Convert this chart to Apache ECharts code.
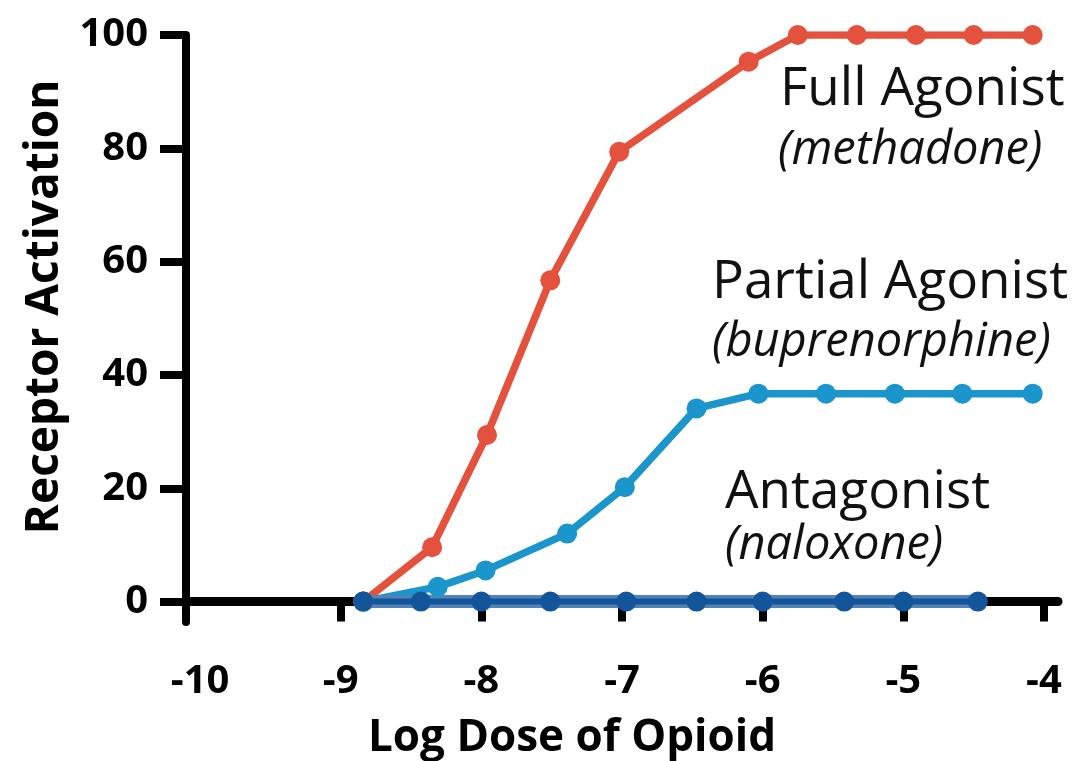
<!DOCTYPE html>
<html>
<head>
<meta charset="utf-8">
<title>Receptor Activation vs Log Dose</title>
<script src="https://cdn.jsdelivr.net/npm/echarts@6/dist/echarts.min.js"></script>
<style>
  html, body { margin: 0; padding: 0; background: #fff; }
  #chart { width: 1084px; height: 761px; }
</style>
</head>
<body>
<div id="chart"></div>
<script>
// log dose (x) and receptor activation (%)
var fullX = [-8.84, -8.35, -7.96, -7.51, -7.02, -6.10, -5.75, -5.33, -4.91, -4.50, -4.08];
var fullY = [0, 9.6, 29.4, 56.7, 79.4, 95.3, 100, 100, 100, 100, 100];

var partialX = [-8.84, -8.31, -7.97, -7.39, -6.98, -6.47, -6.03, -5.55, -5.06, -4.58, -4.08];
var partialY = [0, 2.6, 5.5, 12.0, 20.2, 34.1, 36.7, 36.7, 36.7, 36.7, 36.7];

var antagX = [-8.84, -8.43, -8.00, -7.51, -6.97, -6.47, -6.00, -5.42, -5.00, -4.47];
var antagY = [0, 0, 0, 0, 0, 0, 0, 0, 0, 0];

var xTicks = [-10, -9, -8, -7, -6, -5, -4];
var yTicks = [0, 20, 40, 60, 80, 100];

function pairs(xs, ys) {
  return xs.map(function (x, i) { return [x, ys[i]]; });
}

var font = '"Open Sans", "DejaVu Sans", sans-serif';

var chart = echarts.init(document.getElementById('chart'));

// 曲线
function curve(name, data, color, width, showSymbol) {
  return {
    name: name,
    type: 'line',
    data: data,
    symbol: 'circle',
    symbolSize: 20,
    showSymbol: showSymbol !== false,
    lineStyle: { color: color, width: width || 7.5 },
    itemStyle: { color: color },
    emphasis: { disabled: true },
    animation: false
  };
}

var antag = pairs(antagX, antagY);

var option = {
  backgroundColor: '#ffffff',
  grid: { left: 186, right: 26, top: 35, bottom: 139 },
  xAxis: {
    type: 'value',
    min: -10.1,
    max: -3.9,
    axisLine: { onZero: true, lineStyle: { color: '#000', width: 9 } },
    axisTick: { customValues: xTicks.slice(1), length: 20, lineStyle: { color: '#000', width: 8 } },
    axisLabel: {
      customValues: xTicks,
      margin: 40,
      color: '#000',
      fontFamily: font,
      fontWeight: 'bold',
      fontSize: 40
    },
    splitLine: { show: false }
  },
  yAxis: {
    type: 'value',
    min: -3.6,
    max: 100,
    axisLine: { show: true, lineStyle: { color: '#000', width: 8 } },
    axisTick: { show: true, customValues: yTicks, length: 26, lineStyle: { color: '#000', width: 8 } },
    axisLabel: {
      customValues: yTicks,
      margin: 38,
      color: '#000',
      fontFamily: font,
      fontWeight: 'bold',
      fontSize: 40
    },
    splitLine: { show: false }
  },
  graphic: [
    { type: 'text', x: 572, y: 738, style: { text: 'Log Dose of Opioid', fill: '#000', font: 'bold 44px ' + font, textAlign: 'center', textVerticalAlign: 'middle' } },
    { type: 'text', x: 45, y: 307, rotation: Math.PI / 2, style: { text: 'Receptor Activation', fill: '#000', font: 'bold 46px ' + font, textAlign: 'center', textVerticalAlign: 'middle' } },
    { type: 'text', x: 780, y: 90, style: { text: 'Full Agonist', fill: '#111', font: '53px ' + font, textVerticalAlign: 'middle' } },
    { type: 'text', x: 778, y: 151, style: { text: '(methadone)', fill: '#111', font: 'italic 47px ' + font, textVerticalAlign: 'middle' } },
    { type: 'text', x: 712, y: 283, style: { text: 'Partial Agonist', fill: '#111', font: '53px ' + font, textVerticalAlign: 'middle' } },
    { type: 'text', x: 712, y: 343, style: { text: '(buprenorphine)', fill: '#111', font: 'italic 47px ' + font, textVerticalAlign: 'middle' } },
    { type: 'text', x: 725, y: 493, style: { text: 'Antagonist', fill: '#111', font: '53px ' + font, textVerticalAlign: 'middle' } },
    { type: 'text', x: 725, y: 546, style: { text: '(naloxone)', fill: '#111', font: 'italic 47px ' + font, textVerticalAlign: 'middle' } }
  ],
  series: [
    curve('Full Agonist (methadone)', pairs(fullX, fullY), '#e4513c'),
    curve('Partial Agonist (buprenorphine)', pairs(partialX, partialY), '#1b96cc'),
    // light band under the antagonist line
    curve('Antagonist band', antag, '#5283b8', 13, false),
    curve('Antagonist (naloxone)', antag, '#13559b', 6)
  ]
};

chart.setOption(option);
</script>
</body>
</html>
